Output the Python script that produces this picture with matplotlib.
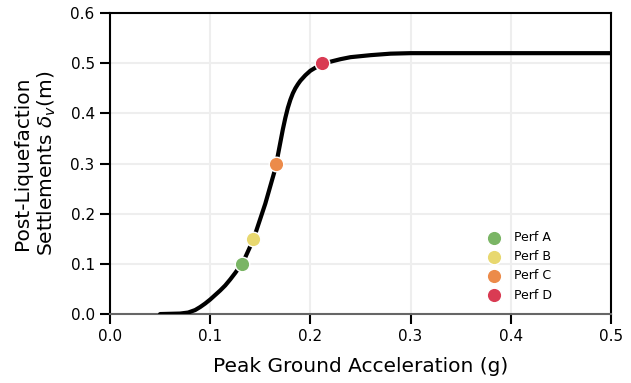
import numpy as np
import matplotlib.pyplot as plt

# settlement curve
pga = [0.05, 0.07, 0.078, 0.085, 0.09, 0.095, 0.10, 0.105, 0.11, 0.115,
       0.12, 0.125, 0.13, 0.135, 0.14, 0.145, 0.15, 0.155, 0.16, 0.165,
       0.17, 0.1725, 0.175, 0.1775, 0.18, 0.1825, 0.185, 0.1875, 0.19,
       0.195, 0.20, 0.205, 0.21, 0.215, 0.22, 0.23, 0.24, 0.26, 0.28,
       0.30, 0.35, 0.5]
settle = [0.0, 0.001, 0.003, 0.008, 0.014, 0.021, 0.029, 0.038, 0.047, 0.057,
          0.069, 0.082, 0.096, 0.113, 0.135, 0.160, 0.190, 0.220, 0.255, 0.290,
          0.342, 0.368, 0.391, 0.411, 0.427, 0.440, 0.450, 0.458, 0.465,
          0.476, 0.485, 0.491, 0.496, 0.500, 0.503, 0.508, 0.512, 0.516, 0.519,
          0.520, 0.520, 0.520]

perf_labels = ["Perf A", "Perf B", "Perf C", "Perf D"]
perf_pga = [0.132, 0.143, 0.166, 0.212]
perf_settle = [0.10, 0.15, 0.30, 0.50]
perf_colors = ["#7ab565", "#e8d870", "#ec8b4a", "#d93b53"]

fig = plt.figure(figsize=(6.31, 3.83), dpi=100)
ax = fig.add_axes([0.1743, 0.180, 0.794, 0.786])

ax.plot(pga, settle, color="black", lw=3, solid_capstyle="round",
        solid_joinstyle="round", zorder=3)
for lab, x, y, c in zip(perf_labels, perf_pga, perf_settle, perf_colors):
    ax.scatter(x, y, s=110, color=c, edgecolor="white", linewidth=1,
               label=lab, zorder=4)

ax.set_xlim(0, 0.5)
ax.set_ylim(0, 0.6)
ax.set_xticks(np.arange(0, 0.51, 0.1))
ax.set_yticks(np.arange(0, 0.61, 0.1))
ax.grid(True, color="#eeeeee", lw=1.5)
ax.set_axisbelow(True)
for s in ax.spines.values():
    s.set_linewidth(1.5)
ax.spines["bottom"].set_color("#666666")
ax.tick_params(direction="out", length=7, width=1.5, labelsize=11, pad=4)

ax.set_xlabel("Peak Ground Acceleration (g)", fontsize=14.5, labelpad=9)
ax.set_ylabel("Post-Liquefaction\nSettlements $\\delta_v$(m)", fontsize=14.5,
              labelpad=9)

leg = ax.legend(loc="lower right", bbox_to_anchor=(0.905, 0.004), frameon=False,
                fontsize=9, markerscale=1.0, handletextpad=0.6,
                labelspacing=0.5)

fig.savefig("out.png", dpi=100)
